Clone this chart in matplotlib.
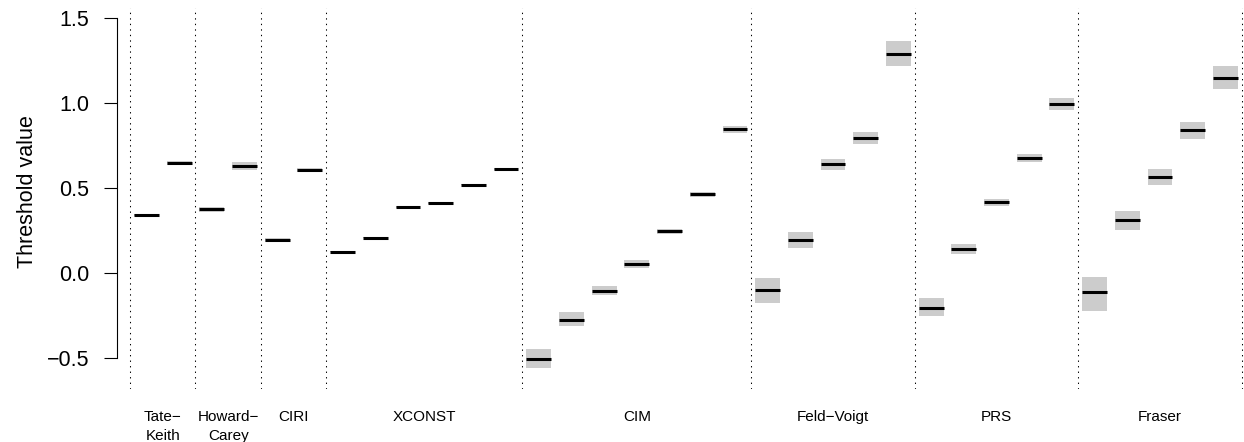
import numpy as np
import matplotlib
matplotlib.use("Agg")
import matplotlib.pyplot as plt
import matplotlib.transforms as mtransforms

plt.rcParams['font.family'] = ['Liberation Sans', 'DejaVu Sans']

# Groupes de seuils
groupes = ["Tate\u2212\nKeith", "Howard\u2212\nCarey", "CIRI", "XCONST", "CIM",
           "Feld\u2212Voigt", "PRS", "Fraser"]
tailles = [2, 2, 2, 6, 7, 5, 5, 5]

# Estimations des seuils
seuils = [0.343, 0.651,
          0.376, 0.631,
          0.196, 0.608,
          0.127, 0.209, 0.390, 0.414, 0.521, 0.614,
          -0.504, -0.273, -0.102, 0.055, 0.247, 0.465, 0.847,
          -0.096, 0.196, 0.641, 0.796, 1.290,
          -0.202, 0.141, 0.419, 0.678, 0.996,
          -0.112, 0.312, 0.566, 0.841, 1.151]

# Intervalles (bornes inférieures / supérieures)
bas = [0.335, 0.640,
       0.362, 0.608,
       0.186, 0.598,
       0.123, 0.205, 0.386, 0.410, 0.517, 0.610,
       -0.557, -0.312, -0.129, 0.033, 0.231, 0.447, 0.827,
       -0.175, 0.147, 0.608, 0.761, 1.221,
       -0.251, 0.115, 0.398, 0.653, 0.962,
       -0.220, 0.253, 0.519, 0.792, 1.086]
haut = [0.351, 0.662,
        0.390, 0.652,
        0.206, 0.618,
        0.131, 0.213, 0.394, 0.418, 0.525, 0.618,
        -0.445, -0.229, -0.075, 0.078, 0.261, 0.480, 0.866,
        -0.028, 0.241, 0.674, 0.829, 1.368,
        -0.147, 0.171, 0.439, 0.702, 1.029,
        -0.022, 0.366, 0.612, 0.888, 1.219]

seuils = np.array(seuils)
bas = np.array(bas)
haut = np.array(haut)
x = np.arange(1, len(seuils) + 1)
demi = 0.38

fig = plt.figure(figsize=(12.44, 4.42), dpi=100)
ax = fig.add_axes([117.3 / 1244, 1 - 389 / 442, 1 - 117.3 / 1244, 381 / 442])

# Bandes grises
ax.bar(x, haut - bas, bottom=bas, width=2 * demi, color='#CCCCCC', linewidth=0)
# Segments des seuils
ax.hlines(seuils, x - demi, x + demi, colors='black', linewidth=2.2)

# Séparateurs de groupes
limites = np.concatenate([[0], np.cumsum(tailles)]) + 0.5
for b in limites:
    ax.axvline(b, color='black', linewidth=0.75, linestyle=(0, (1.3, 4)))

ax.set_xlim(0.11, 34.57)
ax.set_ylim(-0.681, 1.561)

# Axe y façon R
for cote in ['top', 'right', 'bottom']:
    ax.spines[cote].set_visible(False)
ax.spines['left'].set_bounds(-0.5, 1.5)
ax.spines['left'].set_linewidth(0.8)
ax.set_yticks([-0.5, 0.0, 0.5, 1.0, 1.5])
ax.set_yticklabels(["\u22120.5", "0.0", "0.5", "1.0", "1.5"])
ax.tick_params(axis='y', length=9.6, width=0.8, pad=10.5, labelsize=15.5)
ax.set_xticks([])
ax.set_ylabel("Threshold value", fontsize=15.5)
ax.yaxis.set_label_coords(-0.0708, 0.518)

# Étiquettes des groupes
trans = mtransforms.blended_transform_factory(ax.transData, ax.transAxes)
for g, lo, hi in zip(groupes, limites[:-1], limites[1:]):
    ax.text((lo + hi) / 2, -0.055, g, transform=trans, ha='center', va='top',
            fontsize=11, linespacing=1.5)

fig.savefig("out.png", dpi=100)
